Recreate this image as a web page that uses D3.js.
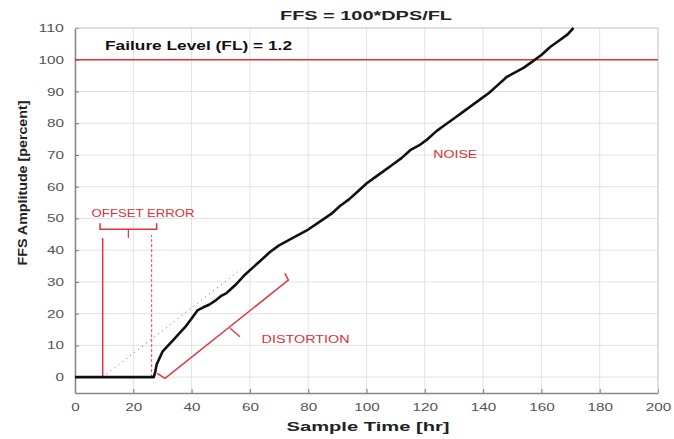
<!DOCTYPE html>
<html><head><meta charset="utf-8">
<script src="https://cdn.jsdelivr.net/npm/d3@7"></script>
<style>body{margin:0;background:#fff;}svg{display:block;}</style>
</head><body>
<svg id="c" width="674" height="439"></svg>
<script>
// ---- data ----
const sampleTime = [0,27,27.5,28,29,30,32,34,36,38,40,42,44,46,48,50,52,55,58,61,64,67,70,73,76,80,84,88,91,94,97,100,103,106,109,112,115,118,121,124,127,130,133,136,139,142,145,148,151,154,157,160,163,166,169,171];
const ffsAmplitude = [0,0,1.5,4,6,8,10,12,14,16,18.5,21,22,22.8,24,25.5,26.5,29,32,34.5,37,39.5,41.5,43,44.5,46.5,49,51.5,54,56,58.5,61,63,65,67,69,71.5,73,75,77.5,79.5,81.5,83.5,85.5,87.5,89.5,92,94.5,96,97.5,99.5,101.5,104,106,108,110];
const xTicks = [0,20,40,60,80,100,120,140,160,180,200];
const yTicks = [0,10,20,30,40,50,60,70,80,90,100,110];
const failureLevel = 100;
// annotation geometry in data units
const offsetLineX = [9.5, 26.3];
const offsetBracket = [[8.6,48.5],[8.6,46.6],[28,46.6],[28,48.5]];
const offsetTick = [[18.3,46.6],[18.3,43.8]];
const dottedFit = [[9.5,0],[57,34]];
const distortionBracket = [[28.2,1.2],[30.9,-0.4],[73.2,30.6],[72.0,32.7]];
const distortionTick = [[53.2,15.4],[56.6,12.7]];
const labels = [
  {text:"Failure Level (FL) = 1.2", x:10.3, y:103.2, len:187, color:"#111", weight:"bold", size:12.5},
  {text:"NOISE", x:122.9, y:69.1, len:44, color:"#d8323a", weight:"normal", size:11},
  {text:"OFFSET ERROR", x:5.7, y:50.5, len:103, color:"#d8323a", weight:"normal", size:10},
  {text:"DISTORTION", x:64, y:10.6, len:88, color:"#d8323a", weight:"normal", size:10}
];

// ---- layout ----
const svg = d3.select("#c");
const L=75, R=658, T=28, B=393;
const x = d3.scaleLinear().domain([0,200]).range([L,R]);
const y = d3.scaleLinear().domain([-5,110]).range([B,T]);
const red = "#e2323b";
const font = "'Liberation Sans', Arial, sans-serif";

// grid
const g = svg.append("g");
g.selectAll("line.gx").data(xTicks).join("line")
  .attr("x1",d=>x(d)).attr("x2",d=>x(d)).attr("y1",T).attr("y2",B)
  .attr("stroke","#e2e2e2").attr("stroke-width",1);
g.selectAll("line.gy").data(yTicks).join("line")
  .attr("y1",d=>y(d)).attr("y2",d=>y(d)).attr("x1",L).attr("x2",R)
  .attr("stroke","#e2e2e2").attr("stroke-width",1);

// axes
const xAxis = d3.axisBottom(x).tickValues(xTicks).tickSizeInner(-4).tickSizeOuter(0).tickPadding(10);
const yAxis = d3.axisLeft(y).tickValues(yTicks).tickSizeInner(-4).tickSizeOuter(0).tickPadding(10);
const gx = svg.append("g").attr("transform",`translate(0,${B})`).call(xAxis);
const gy = svg.append("g").attr("transform",`translate(${L},0)`).call(yAxis);
[gx,gy].forEach(a=>{
  a.select(".domain").attr("stroke","#888").attr("stroke-width",1.5);
  a.selectAll(".tick line").attr("stroke","#777");
  a.selectAll(".tick text").attr("fill","#555").attr("font-family",font).attr("font-size",11)
    .attr("textLength",d=>String(d).length*8.5).attr("lengthAdjust","spacingAndGlyphs");
});
gy.selectAll(".tick text").attr("dx",-1);
// box top/right
svg.append("line").attr("x1",L).attr("x2",R).attr("y1",T).attr("y2",T).attr("stroke","#ccc");
svg.append("line").attr("x1",R).attr("x2",R).attr("y1",T).attr("y2",B).attr("stroke","#ccc");

// failure level line
svg.append("line").attr("x1",L).attr("x2",R).attr("y1",y(failureLevel)).attr("y2",y(failureLevel))
  .attr("stroke",red).attr("stroke-width",1.5);

const line = d3.line().x(d=>x(d[0])).y(d=>y(d[1]));

// offset error annotation
svg.append("line").attr("x1",x(offsetLineX[0])).attr("x2",x(offsetLineX[0])).attr("y1",y(0)).attr("y2",y(43.8))
  .attr("stroke",red).attr("stroke-width",1.5);
svg.append("line").attr("x1",x(offsetLineX[1])).attr("x2",x(offsetLineX[1])).attr("y1",y(0)).attr("y2",y(44.8))
  .attr("stroke",red).attr("stroke-width",0.9).attr("stroke-dasharray","3,2");
svg.append("path").attr("d",line(offsetBracket)).attr("fill","none").attr("stroke",red).attr("stroke-width",1.5);
svg.append("path").attr("d",line(offsetTick)).attr("fill","none").attr("stroke",red).attr("stroke-width",1.2);
svg.append("path").attr("d",line(dottedFit)).attr("fill","none").attr("stroke",red).attr("stroke-width",1)
  .attr("stroke-dasharray","1,4");

// distortion annotation
svg.append("path").attr("d",line(distortionBracket)).attr("fill","none").attr("stroke",red).attr("stroke-width",1.5);
svg.append("path").attr("d",line(distortionTick)).attr("fill","none").attr("stroke",red).attr("stroke-width",1.2);

// data curve
svg.append("path").datum(sampleTime.map((t,i)=>[t,ffsAmplitude[i]]))
  .attr("d",line).attr("fill","none").attr("stroke","#111").attr("stroke-width",2.6)
  .attr("stroke-linejoin","round");

// annotation labels
svg.selectAll("text.ann").data(labels).join("text")
  .attr("x",d=>x(d.x)).attr("y",d=>y(d.y)).text(d=>d.text)
  .attr("fill",d=>d.color).attr("font-weight",d=>d.weight).attr("font-size",d=>d.size)
  .attr("font-family",font).attr("textLength",d=>d.len).attr("lengthAdjust","spacingAndGlyphs");

// titles
svg.append("text").attr("x",366).attr("y",20).attr("text-anchor","middle").text("FFS = 100*DPS/FL")
  .attr("font-family",font).attr("font-weight","bold").attr("font-size",13).attr("fill","#222")
  .attr("textLength",172).attr("lengthAdjust","spacingAndGlyphs");
svg.append("text").attr("x",368).attr("y",431).attr("text-anchor","middle").text("Sample Time [hr]")
  .attr("font-family",font).attr("font-weight","bold").attr("font-size",13).attr("fill","#222")
  .attr("textLength",163).attr("lengthAdjust","spacingAndGlyphs");
svg.append("text").attr("transform","translate(27,183) rotate(-90)").attr("text-anchor","middle")
  .text("FFS Amplitude [percent]")
  .attr("font-family",font).attr("font-weight","bold").attr("font-size",12.5).attr("fill","#222")
  .attr("textLength",165).attr("lengthAdjust","spacingAndGlyphs");
</script>
</body></html>
